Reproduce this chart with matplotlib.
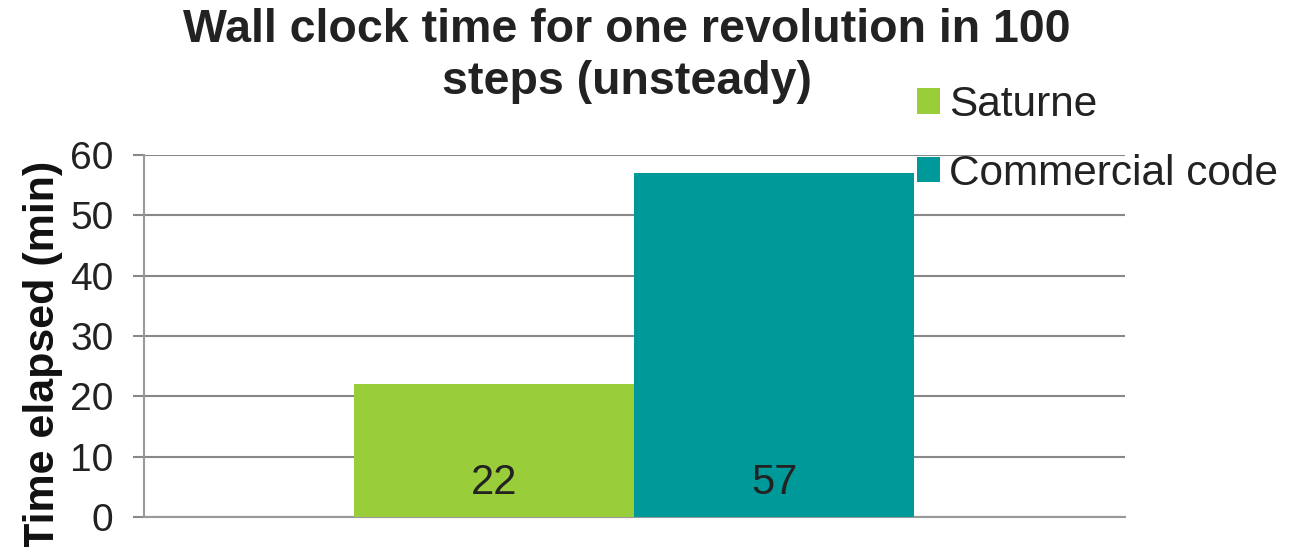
import numpy as np
import matplotlib.pyplot as plt

plt.rcParams['font.family'] = ['Liberation Sans', 'DejaVu Sans']

series = ['Saturne', 'Commercial code']
values = [22, 57]
colors = ['#9ACD3A', '#009999']
yticks = [0, 10, 20, 30, 40, 50, 60]
title_lines = ['Wall clock time for one revolution in 100', 'steps (unsteady)']

fig = plt.figure(figsize=(13.04, 5.47), dpi=100)
ax = fig.add_axes([0.1104, 0.0548, 0.7523, 0.6618])

width = 0.2854
offsets = [-width/2, width/2]
for name, v, c, off in zip(series, values, colors, offsets):
    ax.bar(off, v, width=width, color=c, label=name, zorder=3)
    ax.text(off, 5.6, str(v), ha='center', va='center', fontsize=30, color='#222222', zorder=4)

ax.set_xlim(-0.5, 0.5)
ax.set_ylim(0, 60)
ax.set_yticks(yticks)
ax.set_xticks([])
ax.tick_params(axis='y', labelsize=28, length=8, width=1.5, color='#888888', labelcolor='#222222', pad=14)
ax.grid(axis='y', color='#888888', linewidth=1.5, zorder=0)
for s in ['top', 'right']:
    ax.spines[s].set_visible(False)
ax.spines['left'].set_color('#999999')
ax.spines['left'].set_linewidth(1.5)
ax.spines['bottom'].set_color('#999999')
ax.spines['bottom'].set_linewidth(1.5)

# label is cut at the bottom edge in the original too
ax.set_ylabel('Time elapsed (min)', fontsize=31, fontweight='bold', color='#111111')
ax.yaxis.set_label_coords(-0.083, 0.448)

# title as two lines so it does not sit on the legend box
for line, y in zip(title_lines, [0.946, 0.851]):
    fig.text(0.481, y, line, ha='center', va='center', fontsize=33.5,
             fontweight='bold', color='#222222')

leg = fig.legend(loc='upper left', bbox_to_anchor=(0.703, 0.845), frameon=False, fontsize=30.5,
                 handlelength=0.55, handleheight=0.55, handletextpad=0.22, labelspacing=0.68,
                 borderaxespad=0, borderpad=0, labelcolor='#222222')

fig.savefig('out.png', dpi=100)
